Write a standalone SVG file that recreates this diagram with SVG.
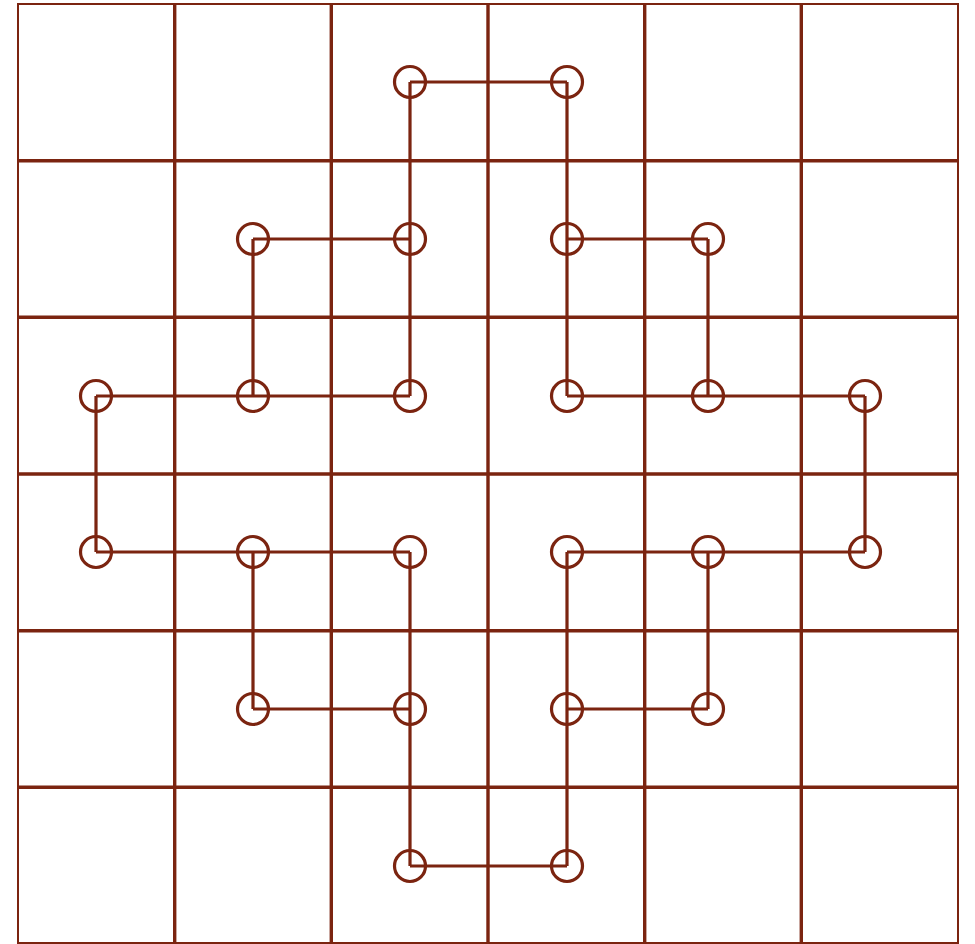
<svg xmlns="http://www.w3.org/2000/svg" width="975" height="944" viewBox="0 0 975 944">
<style>
.g{stroke:#7b2410;stroke-width:3.4;fill:none}
.o{stroke:#7b2410;stroke-width:2;fill:none}
.c{stroke:#7b2410;stroke-width:3.2;fill:none}
.n{stroke:#7b2410;stroke-width:3.2;fill:none}
</style>
<rect width="975" height="944" fill="#fff"/>
<g id="grid">
<rect class="o" x="18" y="4" width="940" height="939"/>
<path class="g" d="M174.7 4V944M331.3 4V944M488 4V944M644.7 4V944M801.3 4V944M18 160.7H958M18 317.3H958M18 474H958M18 630.7H958M18 787.3H958"/>
</g>
<g id="connectors">
<path class="c" d="M410 82H567M410 82V396M567 82V396M253 239H410M253 239V396M96 396H410M567 239H708M708 239V396M567 396H865M865 396V552M96 396V552M96 552H410M253 552V709M253 709H410M410 552V866M410 866H567M567 552V866M567 709H708M708 552V709M567 552H865"/>
</g>
<g id="n1"><circle class="n" cx="410" cy="82" r="15.5"/></g>
<g id="n2"><circle class="n" cx="567" cy="82" r="15.5"/></g>
<g id="n3"><circle class="n" cx="253" cy="239" r="15.5"/></g>
<g id="n4"><circle class="n" cx="410" cy="239" r="15.5"/></g>
<g id="n5"><circle class="n" cx="567" cy="239" r="15.5"/></g>
<g id="n6"><circle class="n" cx="708" cy="239" r="15.5"/></g>
<g id="n7"><circle class="n" cx="96" cy="396" r="15.5"/></g>
<g id="n8"><circle class="n" cx="253" cy="396" r="15.5"/></g>
<g id="n9"><circle class="n" cx="410" cy="396" r="15.5"/></g>
<g id="n10"><circle class="n" cx="567" cy="396" r="15.5"/></g>
<g id="n11"><circle class="n" cx="708" cy="396" r="15.5"/></g>
<g id="n12"><circle class="n" cx="865" cy="396" r="15.5"/></g>
<g id="n13"><circle class="n" cx="96" cy="552" r="15.5"/></g>
<g id="n14"><circle class="n" cx="253" cy="552" r="15.5"/></g>
<g id="n15"><circle class="n" cx="410" cy="552" r="15.5"/></g>
<g id="n16"><circle class="n" cx="567" cy="552" r="15.5"/></g>
<g id="n17"><circle class="n" cx="708" cy="552" r="15.5"/></g>
<g id="n18"><circle class="n" cx="865" cy="552" r="15.5"/></g>
<g id="n19"><circle class="n" cx="253" cy="709" r="15.5"/></g>
<g id="n20"><circle class="n" cx="410" cy="709" r="15.5"/></g>
<g id="n21"><circle class="n" cx="567" cy="709" r="15.5"/></g>
<g id="n22"><circle class="n" cx="708" cy="709" r="15.5"/></g>
<g id="n23"><circle class="n" cx="410" cy="866" r="15.5"/></g>
<g id="n24"><circle class="n" cx="567" cy="866" r="15.5"/></g>
</svg>
